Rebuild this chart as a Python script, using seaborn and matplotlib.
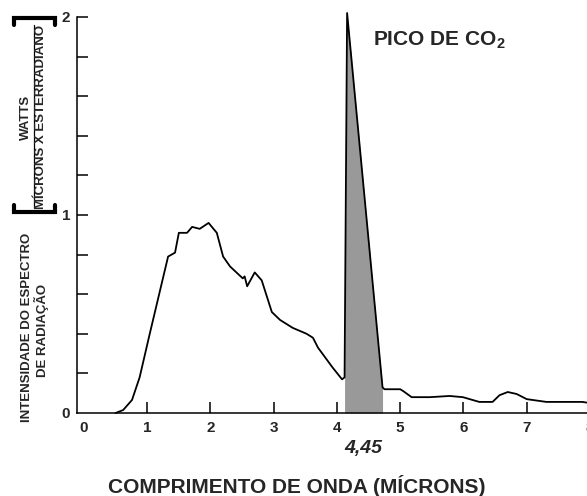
import matplotlib
matplotlib.use('Agg')
import matplotlib.pyplot as plt
import seaborn as sns
import numpy as np
import pandas as pd

# spectrum (microns, intensity)
wavelength = [0.5, 0.62, 0.76, 0.88, 1.04, 1.33, 1.44, 1.50, 1.63, 1.71, 1.83, 1.97,
              2.10, 2.20, 2.31, 2.51, 2.54, 2.58, 2.70, 2.81, 2.97, 3.10, 3.30, 3.52,
              3.62, 3.70, 3.93, 4.08, 4.12, 4.16, 4.72, 4.75, 5.0, 5.05, 5.18, 5.47,
              5.78, 5.99, 6.25, 6.46, 6.57, 6.70, 6.84, 7.0, 7.31, 7.88, 8.0]
intensity = [0.0, 0.015, 0.066, 0.18, 0.40, 0.79, 0.81, 0.91, 0.91, 0.94, 0.93, 0.96,
             0.91, 0.79, 0.74, 0.68, 0.69, 0.64, 0.71, 0.67, 0.51, 0.47, 0.43, 0.40,
             0.38, 0.33, 0.23, 0.17, 0.18, 2.02, 0.13, 0.12, 0.12, 0.11, 0.08, 0.08,
             0.086, 0.08, 0.056, 0.056, 0.09, 0.106, 0.096, 0.07, 0.056, 0.056, 0.05]
peak_start, peak_end = 4.12, 4.72
x_ticks = [0, 1, 2, 3, 4, 5, 6, 7, 8]
y_ticks = [0, 0.2, 0.4, 0.6, 0.8, 1, 1.2, 1.4, 1.6, 1.8, 2]
y_labels = ['0', '', '', '', '', '1', '', '', '', '', '2']

df = pd.DataFrame({'wl': wavelength, 'val': intensity})

sns.set_style('ticks')
plt.rcParams['font.family'] = ['Liberation Sans', 'DejaVu Sans']
plt.rcParams['font.weight'] = 'bold'
plt.rcParams['mathtext.fontset'] = 'custom'
plt.rcParams['mathtext.bf'] = 'Liberation Sans:bold'
plt.rcParams['mathtext.rm'] = 'Liberation Sans:bold'
plt.rcParams['mathtext.default'] = 'bf'

W, H = 587, 496
fig = plt.figure(figsize=(W / 100, H / 100), dpi=100)
ax = fig.add_axes([77 / W, 1 - 413 / H, 513 / W, 396 / H])

# shaded CO2 peak
peak = df[(df['wl'] >= peak_start) & (df['wl'] <= peak_end)]
ax.fill_between(peak['wl'], 0, peak['val'], color='#999999', lw=0, clip_on=False)
sns.lineplot(data=df, x='wl', y='val', ax=ax, color='black', lw=1.3,
             estimator=None, sort=False, clip_on=False)

ax.set_xlim(-0.11, 8.0)
ax.set_ylim(0, 2.0)
ax.set_xticks(x_ticks)
ax.set_xticklabels([str(t) for t in x_ticks])
ax.set_yticks(y_ticks)
ax.set_yticklabels(y_labels)
ax.tick_params(axis='both', direction='in', length=8, width=1.1, color='black',
               labelsize=11, pad=6, bottom=True, left=True)
ax.tick_params(axis='y', pad=5)
ax.xaxis.get_major_ticks()[0].tick1line.set_visible(False)
ax.yaxis.get_major_ticks()[0].tick1line.set_visible(False)
for lab in ax.get_xticklabels() + ax.get_yticklabels():
    lab.set_fontweight('bold')
sns.despine(ax=ax)
for s in ['left', 'bottom']:
    ax.spines[s].set_linewidth(1.1)
    ax.spines[s].set_color('black')
ax.set_xlabel('')
ax.set_ylabel('')

ax.text(4.57, 1.88, r'PICO DE CO$_2$', fontsize=15, fontweight='bold',
        ha='left', va='center')
ax.text(4.41, -0.177, '4,45', fontsize=14, fontweight='bold', style='italic',
        ha='center', va='center', clip_on=False)

# overlay in pixel coordinates for the axis titles
ov = fig.add_axes([0, 0, 1, 1], facecolor='none')
ov.set_xlim(0, W)
ov.set_ylim(H, 0)
ov.axis('off')

ov.text(297, 486, 'COMPRIMENTO DE ONDA (MÍCRONS)', fontsize=15, fontweight='bold',
        ha='center', va='center')
ov.text(26, 117, 'WATTS', fontsize=9.5, fontweight='bold', rotation=90,
        ha='center', va='center')
ov.plot([33.5, 33.5], [25, 208], color='black', lw=0.9)
ov.text(41.5, 117, 'MÍCRONS X ESTERRADIANO', fontsize=9.5, fontweight='bold',
        rotation=90, ha='center', va='center')
ov.text(27, 327, 'INTENSIDADE DO ESPECTRO', fontsize=9.5, fontweight='bold',
        rotation=90, ha='center', va='center')
ov.text(41.5, 330, 'DE RADIAÇÃO', fontsize=9.5, fontweight='bold', rotation=90,
        ha='center', va='center')

# brackets around the unit
ov.plot([14, 14, 55, 55], [25, 18, 18, 25], color='black', lw=3, solid_joinstyle='miter')
ov.plot([14, 14, 55, 55], [205, 212, 212, 205], color='black', lw=3, solid_joinstyle='miter')

fig.savefig('out.png', dpi=100)
